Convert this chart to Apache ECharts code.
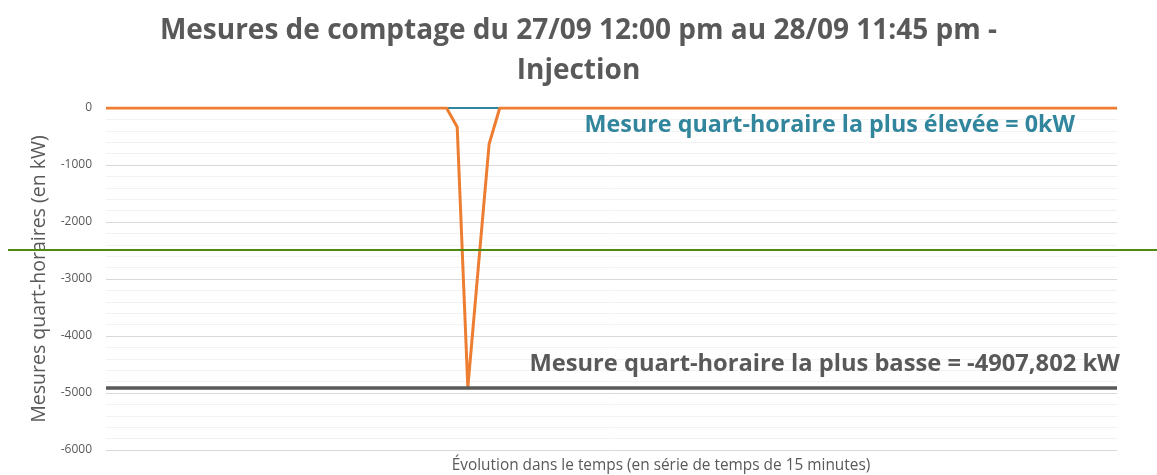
<!DOCTYPE html>
<html>
<head>
<meta charset="utf-8">
<script src="https://cdn.jsdelivr.net/npm/echarts@6/dist/echarts.min.js"></script>
<style>html,body{margin:0;padding:0;background:#fff}#c{width:1157px;height:475px}</style>
</head>
<body>
<div id="c"></div>
<script>
// 96 quarter-hour measures (index only, no visible x labels)
const injection = [
  0,0,0,0,0,0,0,0,0,0,0,0,0,0,0,0,
  0,0,0,0,0,0,0,0,0,0,0,0,0,0,0,0,
  0,-333,-4907.802,-2763,-632,0,0,0,0,0,0,0,0,0,0,0,
  0,0,0,0,0,0,0,0,0,0,0,0,0,0,0,0,
  0,0,0,0,0,0,0,0,0,0,0,0,0,0,0,0,
  0,0,0,0,0,0,0,0,0,0,0,0,0,0,0,0
];
const categories = injection.map((v, i) => String(i));
const maxValue = 0;
const minValue = -4907.802;
const refValue = -2490;
const yTicks = [0, -1000, -2000, -3000, -4000, -5000, -6000];

const titleText = 'Mesures de comptage du 27/09 12:00 pm au 28/09 11:45 pm -\nInjection';
const maxText = 'Mesure quart-horaire la plus élevée = 0kW';
const minText = 'Mesure quart-horaire la plus basse = -4907,802 kW';
const yName = 'Mesures quart-horaires (en kW)';
const xName = 'Évolution dans le temps (en série de temps de 15 minutes)';

const chart = echarts.init(document.getElementById('c'));
const FONT = 'Open Sans';
chart.setOption({
  animation: false,
  backgroundColor: '#ffffff',
  title: {
    text: titleText,
    left: 'center',
    top: 6,
    textStyle: { fontFamily: FONT, fontSize: 28, fontWeight: 'bold', color: '#595959', lineHeight: 40 }
  },
  grid: { left: 106, right: 40, top: 108, bottom: 25, outerBoundsMode: 'none', containLabel: false },
  xAxis: {
    type: 'category',
    data: categories,
    boundaryGap: false,
    axisLine: { show: true, lineStyle: { color: '#d9d9d9', width: 1 } },
    axisTick: { show: false },
    axisLabel: { show: false },
    splitLine: { show: false }
  },
  yAxis: {
    type: 'value',
    min: -6000,
    max: 0,
    interval: 1000,
    axisLine: { show: false },
    axisTick: { show: false },
    axisLabel: { fontFamily: FONT, fontSize: 12, color: '#595959', margin: 14,
      formatter: v => yTicks.includes(v) ? String(v) : '' },
    splitLine: { show: true, lineStyle: { color: '#d9d9d9', width: 1 } },
    minorTick: { show: false, splitNumber: 5 },
    minorSplitLine: { show: true, lineStyle: { color: '#f2f2f2', width: 1 } },
    name: yName,
    nameLocation: 'middle',
    nameGap: 51,
    nameRotate: 90,
    nameTextStyle: { fontFamily: FONT, fontSize: 19.5, color: '#595959' }
  },
  series: [
    {
      type: 'line', name: 'max', data: [], z: 1, silent: true,
      markLine: {
        z: 1,
        symbol: 'none', silent: true, label: { show: false },
        lineStyle: { color: '#31859c', width: 2.2, type: 'solid' },
        data: [{ yAxis: maxValue }]
      }
    },
    {
      type: 'line', name: 'injection', data: injection, z: 3,
      symbol: 'none', lineStyle: { color: '#ed7d31', width: 3 }
    },
    {
      type: 'line', name: 'min', data: [], z: 5, silent: true,
      markLine: {
        z: 5,
        symbol: 'none', silent: true, label: { show: false },
        lineStyle: { color: '#595959', width: 3.5, type: 'solid' },
        data: [{ yAxis: minValue }]
      }
    }
  ]
});

const yRef = chart.convertToPixel({ yAxisIndex: 0 }, refValue);
const yMax = chart.convertToPixel({ yAxisIndex: 0 }, maxValue);
const yMin = chart.convertToPixel({ yAxisIndex: 0 }, minValue);
const yBottom = chart.convertToPixel({ yAxisIndex: 0 }, -6000);
chart.setOption({
  graphic: [
    { type: 'line', shape: { x1: 8, y1: yRef, x2: 1157, y2: yRef },
      style: { stroke: '#4e8a0e', lineWidth: 2 }, z: 10 },
    { type: 'text', x: 1075, y: yMax + 17, z: 10,
      style: { text: maxText, fontFamily: FONT, fontSize: 23.3, fontWeight: 'bold',
        fill: '#31859c', align: 'right', verticalAlign: 'middle' } },
    { type: 'text', x: 1120, y: yMin - 23, z: 10,
      style: { text: minText, fontFamily: FONT, fontSize: 23.7, fontWeight: 'bold',
        fill: '#595959', align: 'right', verticalAlign: 'middle' } },
    { type: 'text', x: 661, y: yBottom + 16, z: 10,
      style: { text: xName, fontFamily: FONT, fontSize: 15.4,
        fill: '#595959', align: 'center', verticalAlign: 'middle' } }
  ]
});
</script>
</body>
</html>
